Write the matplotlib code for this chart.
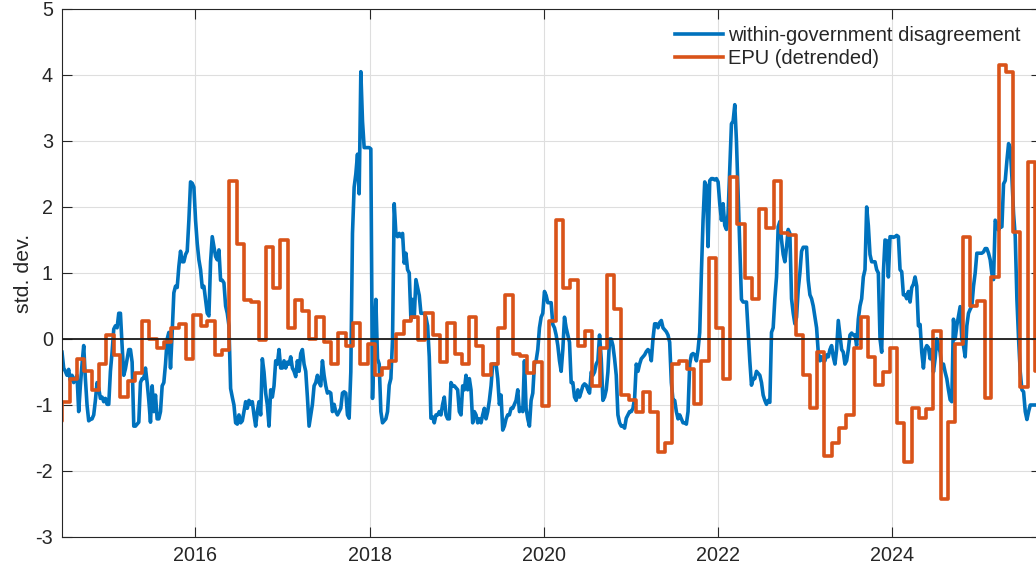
import numpy as np
import pandas as pd
import matplotlib
matplotlib.use("Agg")
import matplotlib.pyplot as plt
import matplotlib.dates as mdates

plt.rcParams['font.family'] = ['Liberation Sans', 'DejaVu Sans']
plt.rcParams['axes.unicode_minus'] = False

# ---------------- data ----------------
blue_start = "2014-06-21"   # weekly series
blue_vals = [
    -0.2, -0.44, -0.49, -0.55, -0.46, -0.63, -0.55, -0.66, -0.6, -0.55,
    -1.1, -0.71, -0.38, -0.1, -0.6, -1.0, -1.24, -1.22, -1.21, -1.15,
    -0.93, -0.66, -0.75, -0.9, -0.88, -0.95, -0.9, -0.99, -0.99, -0.49,
    -0.2, 0.15, 0.2, 0.17, 0.39, 0.39, -0.1, -0.55, -0.45, -0.3,
    -0.16, -0.16, -0.35, -1.32, -1.32, -1.29, -1.26, -0.66, -0.6, -0.6,
    -0.44, -0.66, -0.93, -1.26, -0.71, -1.1, -0.85, -1.21, -1.21, -1.1,
    -0.71, -0.66, -0.38, 0.0, 0.1, -0.44, 0.1, 0.7, 0.8, 0.78,
    1.1, 1.33, 1.17, 1.17, 1.28, 1.33, 1.8, 2.38, 2.36, 2.3,
    1.8, 1.45, 1.2, 1.05, 0.78, 0.8, 0.6, 0.39, 0.35, 1.17,
    1.55, 1.4, 1.25, 1.2, 1.35, 0.89, 0.89, 0.85, 0.5, 0.39,
    0.2, -0.75, -0.88, -1.0,
    -1.27, -1.29, -1.15, -1.27, -1.24, -1.1, -0.95, -1.05, -0.93, -0.99,
    -0.95, -1.15, -1.32, -1.1, -0.95, -1.15, -0.3, -0.5, -0.82, -1.0,
    -1.32, -0.77, -0.88, -0.71, -0.33, -0.38, -0.16, -0.44, -0.44, -0.33,
    -0.44, -0.35, -0.38, -0.27, -0.44, -0.49, -0.57, -0.33, -0.49, -0.22,
    -0.16, -0.38, -0.49, -0.88, -1.32, -1.15, -0.99, -0.71, -0.66, -0.55,
    -0.66, -0.71, -0.33, -0.55, -0.71, -0.82, -0.8, -0.82, -1.1, -0.99,
    -1.1, -1.15, -1.1, -1.05, -0.82, -0.8, -0.82, -1.15, -1.2, -0.5,
    1.6, 2.3, 2.5, 2.8, 2.2, 4.05, 3.3, 2.9, 2.9, 2.9,
    2.9, 2.88, -0.9, 0.0, 0.6, -0.3, -0.38, -1.1, -1.27, -1.24,
    -1.21, -1.1, -0.7, -0.6, 0.0, 2.05, 1.6, 1.55, 1.6, 1.55,
    1.6, 1.15,
    1.3, 1.05, 1.0, 0.3, 0.6, 0.33, 0.9, 0.78, 0.66, 0.39,
    0.39, 0.39, 0.33, 0.2, -0.27, -1.2, -1.18, -1.27, -1.15, -1.15,
    -1.1, -1.15, -0.99, -0.88, -1.15, -1.21, -1.21, -0.66, -0.71, -0.71,
    -0.74, -0.77, -1.1, -1.15, -0.71, -0.77, -0.55, -0.77, -0.6, -0.77,
    -1.27, -1.1, -1.15, -1.27, -1.21, -1.27, -1.15, -1.05, -1.21, -1.1,
    -0.93, -0.71, -0.38, -0.38, -0.38, -0.6, -0.99, -0.85, -1.38, -1.32,
    -1.21, -1.15, -1.15, -1.05, -1.05, -0.99, -0.93, -0.77, -1.1, -1.05,
    -1.1, -0.33, -1.05, -1.21, -1.32, -0.93, -0.82, -0.38, -0.33, -0.16,
    0.17, 0.33, 0.39, 0.72, 0.66, 0.55, 0.55, 0.55, 0.22, 0.17,
    0.06, -0.1, -0.33, -0.49, -0.16, 0.33, 0.17, 0.06, -0.05, -0.66,
    -0.66, -0.88,
    -0.93, -0.77, -0.88, -0.8, -0.71, -0.68, -0.7, -0.77, -0.82, -0.5,
    -0.55, -0.5, -0.38, -0.33, 0.06, -0.3, -0.93, -0.88, -0.77, -0.5,
    0.0, 0.0, -0.1, -0.3, -0.55, -1.15, -1.27, -1.32, -1.32, -1.35,
    -1.2, -1.15, -1.1, -1.1, -1.05, -0.9, -0.38, -0.49, -0.38, -0.3,
    -0.27, -0.24, -0.19, -0.16, -0.19, -0.33, 0.0, 0.23, 0.23, 0.17,
    0.25, 0.28, 0.17, 0.14, 0.11, 0.06, -0.05, -0.66, -0.93, -0.93,
    -1.1, -1.21, -1.15, -1.21, -1.27, -1.27, -1.29, -1.1, -0.38, -0.24,
    -0.22, -0.24, -0.33, -0.16, 0.1, 1.0, 1.8, 2.38, 2.32, 1.4,
    2.4, 2.43, 2.43, 2.41, 2.43, 2.38, 2.05, 1.8, 2.05, 1.72,
    1.66, 1.9, 2.6, 3.26, 3.3, 3.55, 3.0, 2.2, 1.4, 0.6,
    0.56, 0.56,
    0.56, 0.1, -0.33, -0.7, -0.6, -0.6, -0.49, -0.52, -0.55, -0.66,
    -0.85, -0.93, -0.99, -0.93, -0.96, 0.1, 0.17, 0.61, 0.94, 1.7,
    1.78, 1.5, 1.28, 1.17, 1.39, 1.66, 1.6, 0.61, 0.39, 0.23,
    0.33, 0.75, 1.0, 1.33, 1.39, 1.39, 1.39, 0.89, 0.67, 0.61,
    0.5, 0.33, 0.17, -0.2, -0.33, -0.27, -0.33, -0.33, -0.24, -0.27,
    -0.16, -0.1, -0.27, -0.38, -0.16, 0.28, 0.06, -0.16, -0.2, -0.38,
    -0.33, -0.16, 0.06, 0.09, 0.06, 0.06, -0.1, 0.3, 0.5, 0.61,
    0.94, 1.05, 2.0, 1.72, 1.28, 1.17, 1.17, 1.17, 1.05, 1.0,
    0.0, -0.2, 1.0, 1.5, 1.49, 0.94, 1.55, 1.55, 1.54, 1.55,
    1.57, 1.55, 1.05, 1.02, 0.67, 0.67, 0.61, 0.72, 0.56, 0.78,
    0.83, 0.94, 0.8, 0.2, 0.22, -0.2, -0.44, -0.16, -0.1, -0.13,
    -0.3, -0.16, -0.5, -0.3, 0.0, -0.1, -0.2, -0.44, -0.38, -0.5,
    -0.6, -0.77,
    -0.92, -0.95, 0.3, 0.0, 0.2, 0.35, 0.49, 0.0, -0.1, -0.27,
    0.2, 0.39, 0.45, 0.5, 0.8, 1.0, 1.3, 1.3, 1.3, 1.3,
    1.32, 1.37, 1.37, 1.3, 1.2, 0.99, 0.9, 1.8, 1.75, 1.65,
    1.7, 1.7, 2.35, 2.4, 2.7, 2.96, 2.9, 2.45, 1.9, 1.55,
    0.6, 0.0, -0.5, -0.77, -0.8, -1.1, -1.22, -1.1, -1.0, -1.0,
    -1.0, -1.0, -1.0, -1.0, -1.0,
]

orange_start = "2014-06-01"  # monthly series
orange_vals = [
    # 2014 Jun-Dec
    -1.24, -0.95, -0.6, -0.3, -0.49, -0.77, -0.38,
    # 2015
    0.06, -0.24, -0.88, -0.63, -0.52, 0.28, 0.0, -0.13, -0.05, 0.17, 0.23, -0.3,
    # 2016
    0.36, 0.2, 0.28, -0.24, -0.16, 2.4, 1.44, 0.59, 0.56, -0.02, 1.39, 0.78,
    # 2017
    1.5, 0.17, 0.59, 0.42, 0.0, 0.34, -0.05, -0.38, 0.09, -0.1, 0.25, -0.38,
    # 2018
    -0.08, -0.55, -0.44, -0.33, 0.08, 0.28, 0.33, -0.02, 0.39, 0.06, -0.35, 0.25,
    # 2019
    -0.22, -0.38, 0.34, -0.1, -0.55, -0.38, 0.17, 0.67, -0.22, -0.25, -0.52, -0.35,
    # 2020
    -1.02, 0.28, 1.8, 0.78, 0.89, -0.1, 0.12, -0.71, -0.13, 0.97, 0.45, -0.85,
    # 2021
    -0.93, -1.1, -0.8, -1.1, -1.71, -1.57, -0.38, -0.33, -0.45, -0.99, -0.33, 1.22,
    # 2022
    0.17, -0.6, 2.46, 1.75, 0.92, 0.61, 1.97, 1.68, 2.4, 1.6, 1.58, 0.06,
    # 2023
    -0.55, -1.04, -0.19, -1.77, -1.57, -1.35, -1.15, -0.13, 0.34, -0.27, -0.69, -0.5,
    # 2024
    -0.13, -1.27, -1.86, -1.04, -1.2, -1.06, 0.12, -2.42, -1.25, -0.07, 1.55, 0.5,
    # 2025 Jan-Sep
    0.58, -0.9, 0.94, 4.15, 4.04, 1.62, -0.72, 2.68, -0.49,
]

labels = ["within-government disagreement", "EPU (detrended)"]
year_ticks = [2016, 2018, 2020, 2022, 2024]
y_ticks = [-3, -2, -1, 0, 1, 2, 3, 4, 5]

# ---------------- figure ----------------
W, H = 1036, 571
fig = plt.figure(figsize=(W / 100, H / 100), dpi=100)
ax = fig.add_axes([62 / W, (H - 537) / H, (1041 - 62) / W, (537 - 9) / H])

blue_dates = pd.date_range(blue_start, periods=len(blue_vals), freq="7D")
month_edges = pd.date_range(orange_start, periods=len(orange_vals) + 1, freq="MS") - pd.Timedelta(days=9)
orange_y = list(orange_vals) + [orange_vals[-1]]

c_blue = "#0072BD"
c_orange = "#D95319"

ax.plot(blue_dates, blue_vals, color=c_blue, lw=2.6, label=labels[0], zorder=2)
ax.plot(month_edges, orange_y, color=c_orange, lw=2.6, label=labels[1], zorder=2.1,
        drawstyle="steps-post")
ax.axhline(0, color="#1a1a1a", lw=1.3, zorder=3)

ax.set_xlim(pd.Timestamp("2014-06-21"), pd.Timestamp("2025-09-16"))
ax.set_ylim(-3, 5)
ax.set_yticks(y_ticks)
ax.set_yticklabels([str(v) for v in y_ticks])
ax.set_xticks([pd.Timestamp(f"{y}-01-01") for y in year_ticks])
ax.xaxis.set_major_formatter(mdates.DateFormatter("%Y"))

tick_color = "#262626"
ax.tick_params(axis="both", direction="in", length=7, width=0.8, color=tick_color,
               labelcolor=tick_color, labelsize=14.2, pad=6.5,
               top=True, right=True)
for sp in ax.spines.values():
    sp.set_color(tick_color)
    sp.set_linewidth(0.8)

ax.grid(True, color="#dedede", lw=0.8, zorder=0)
ax.set_axisbelow(True)

ax.set_ylabel("std. dev.", fontsize=15.4, color=tick_color)
ax.yaxis.set_label_coords(-0.0296, 0.5)

leg = ax.legend(loc="upper left", bbox_to_anchor=(675 / W, 1 - 26 / H),
                bbox_transform=fig.transFigure, frameon=False, fontsize=14.5,
                handlelength=2.39, handletextpad=0.25, labelspacing=0.22,
                borderpad=0.0, borderaxespad=0.0)
for t in leg.get_texts():
    t.set_color(tick_color)

fig.savefig("out.png", dpi=100)
